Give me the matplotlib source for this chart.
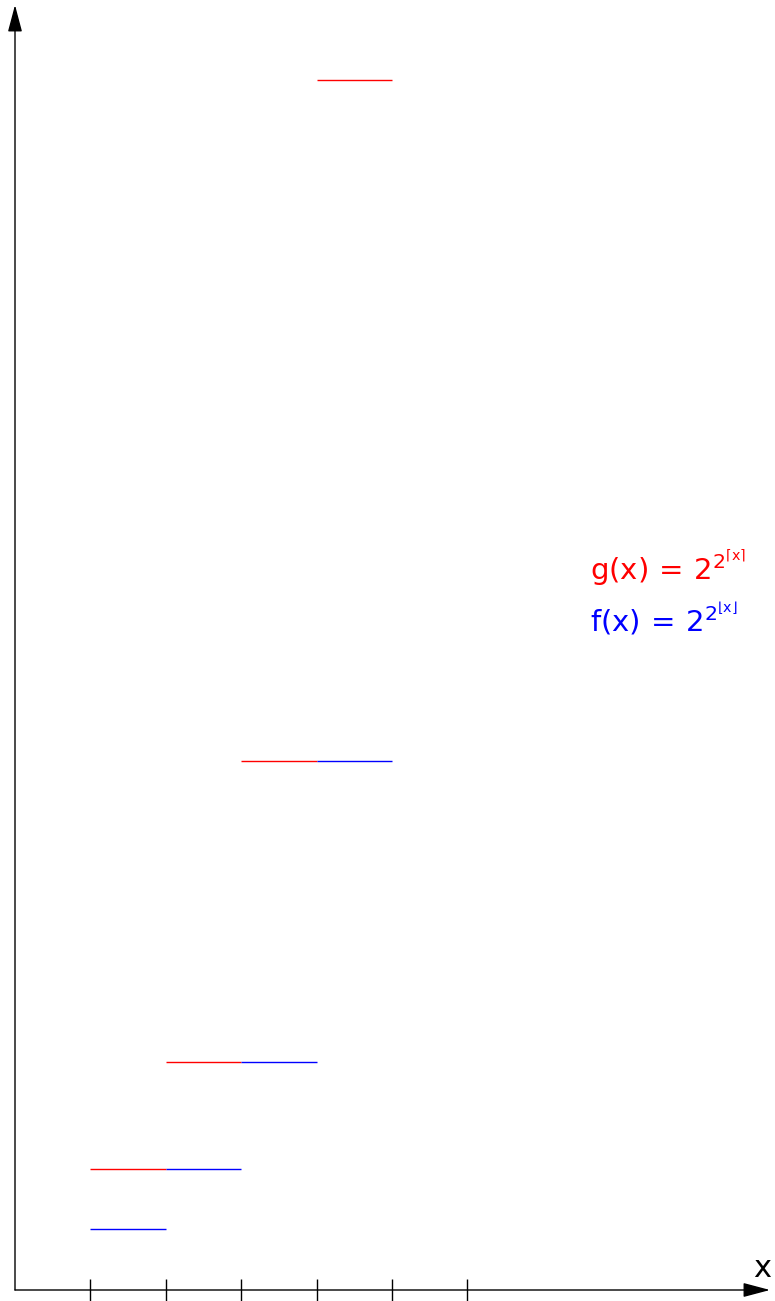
import numpy as np
import matplotlib
matplotlib.use("Agg")
import matplotlib.pyplot as plt

# ---- data ----
x_ticks = [1, 2, 3, 4, 5, 6]
f_starts = [1, 2, 3, 4]            # f(x) = 2^(2^floor(x)) on [k, k+1)
f_values = [2**(2**k) for k in [1, 2, 3, 4]]
g_starts = [1, 2, 3, 4]            # g(x) = 2^(2^ceil(x)) on (k, k+1]
g_values = [2**(2**k) for k in [2, 3, 4, 5]]

# ---- non-linear display scale for the y axis (level = log2(log2(v))) ----
KL = np.array([-1, 0, 1, 2, 3, 4, 5, 6], dtype=float)
KH = np.array([-61, 0, 61, 121, 228, 529, 1210, 1900], dtype=float)
def fwd(L):
    return np.interp(L, KL, KH)
def inv(H):
    return np.interp(H, KH, KL)
def level(v):
    return np.log2(np.log2(np.asarray(v, dtype=float)))

plt.rcParams['mathtext.fontset'] = 'custom'
plt.rcParams['mathtext.rm'] = 'DejaVu Sans'
plt.rcParams['mathtext.it'] = 'DejaVu Sans'
plt.rcParams['mathtext.sf'] = 'DejaVu Sans'
plt.rcParams['font.family'] = ['DejaVu Sans']

fig = plt.figure(figsize=(7.75, 13.01), dpi=100)
ax = fig.add_axes([0, 0, 1, 1])
ax.set_yscale('function', functions=(fwd, inv))
ux = 75.4
ax.set_xlim(-15 / ux, (775 - 15) / ux)
ax.set_ylim(inv(-11), inv(1290))
ax.axis('off')

lw = 1.0
for s, v in zip(g_starts, g_values):
    ax.hlines(level(v), s, s + 1, color='#ff0000', lw=lw, zorder=3)
for s, v in zip(f_starts, f_values):
    ax.hlines(level(v), s, s + 1, color='#0000ff', lw=lw, zorder=3)

# axes with arrows
style = '-|>,head_length=0.83,head_width=0.22'
ax.annotate('', xy=(0, inv(1285)), xytext=(0, 0),
            arrowprops=dict(arrowstyle=style, mutation_scale=20, lw=1.0,
                            color='black', shrinkA=0, shrinkB=0))
ax.annotate('', xy=((770 - 15) / ux, 0), xytext=(0, 0),
            arrowprops=dict(arrowstyle=style, mutation_scale=20, lw=1.0,
                            color='black', shrinkA=0, shrinkB=0))
ax.vlines(x_ticks, inv(-14), inv(11), color='black', lw=1.0)

ax.text((763 - 15) / ux, inv(1290 - 1277), r'$x$', fontsize=22,
        ha='center', va='baseline')

ax.text((590 - 15) / ux, inv(1290 - 580),
        r'$\mathrm{g}(x)\,=\,2^{2^{\lceil x\rceil}}$', color='#ff0000',
        fontsize=21, ha='left', va='baseline')
ax.text((590 - 15) / ux, inv(1290 - 632),
        r'$\mathrm{f}(x)\,=\,2^{2^{\lfloor x\rfloor}}$', color='#0000ff',
        fontsize=21, ha='left', va='baseline')

fig.savefig('out.png', dpi=100)
